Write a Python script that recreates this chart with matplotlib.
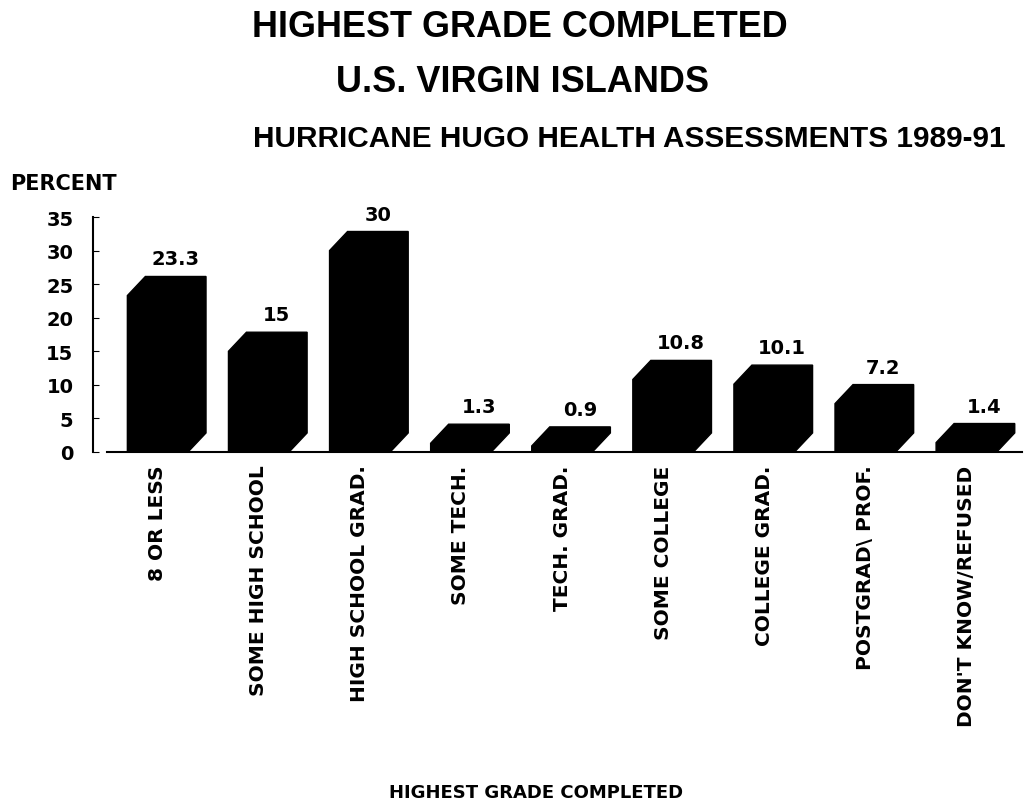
import matplotlib.pyplot as plt
from matplotlib.patches import Polygon

# data
categories = ['8 OR LESS', 'SOME HIGH SCHOOL', 'HIGH SCHOOL GRAD.', 'SOME TECH.',
              'TECH. GRAD.', 'SOME COLLEGE', 'COLLEGE GRAD.', 'POSTGRAD\\ PROF.',
              "DON'T KNOW/REFUSED"]
values = [23.3, 15, 30, 1.3, 0.9, 10.8, 10.1, 7.2, 1.4]
value_labels = ['23.3', '15', '30', '1.3', '0.9', '10.8', '10.1', '7.2', '1.4']
y_ticks = [0, 5, 10, 15, 20, 25, 30, 35]
titles = ['HIGHEST GRADE COMPLETED', 'U.S. VIRGIN ISLANDS',
          'HURRICANE HUGO HEALTH ASSESSMENTS 1989-91']

plt.rcParams['font.family'] = ['DejaVu Sans']
plt.rcParams['font.weight'] = 'bold'

W, H = 1030, 803
fig = plt.figure(figsize=(W / 100, H / 100), dpi=100)
ax = fig.add_axes([93 / W, 1 - 453 / H, (1020 - 93) / W, (453 - 218) / H])
ax.set_xlim(-0.64, 8.53)
ax.set_ylim(0, 35)

bar_w = 0.6      # front face width
dx = 0.178       # depth in x
dy = 2.84        # depth in y

for i, v in enumerate(values):
    x0 = i - bar_w / 2
    x1 = i + bar_w / 2
    pts = [(x0, 0), (x0, v), (x0 + dx, v + dy), (x1 + dx, v + dy),
           (x1 + dx, dy), (x1, 0)]
    ax.add_patch(Polygon(pts, closed=True, facecolor='black', edgecolor='black',
                         lw=1, clip_on=False))
    ax.annotate(value_labels[i], (i + dx, v + dy), xytext=(0, 12),
                textcoords='offset pixels', ha='center', va='baseline',
                fontsize=14, fontweight='bold')

# baseline
ax.plot([-0.5, 8.55], [0, 0], color='black', lw=1.5, clip_on=False)

for s in ['top', 'right', 'bottom']:
    ax.spines[s].set_visible(False)
ax.spines['left'].set_linewidth(1.5)
ax.set_yticks(y_ticks)
ax.set_yticklabels([str(t) for t in y_ticks], fontsize=14, fontweight='bold')
ax.tick_params(axis='y', direction='in', length=4, pad=14)
ax.set_xticks(range(len(categories)))
ax.set_xticklabels(categories, rotation=90, fontsize=14.5, fontweight='bold')
ax.tick_params(axis='x', length=0, pad=9)

# titles, sized to the widths of the reference
renderer = fig.canvas.get_renderer()
title_pos = [(520, 37, 536), (523, 92, 374), (629, 147, 752)]
for txt, (cx, base, width) in zip(titles, title_pos):
    t = fig.text(cx / W, 1 - base / H, txt, ha='center', va='baseline',
                 fontsize=24, fontweight='bold', family='Liberation Sans')
    w = t.get_window_extent(renderer=renderer).width
    t.set_fontsize(24 * width / w)

fig.text(10 / W, 1 - 190 / H, 'PERCENT', ha='left', va='baseline',
         fontsize=15, fontweight='bold')
fig.text(536 / W, 1 - 798 / H, 'HIGHEST GRADE COMPLETED', ha='center',
         va='baseline', fontsize=13, fontweight='bold')

fig.savefig('out.png', dpi=100)
